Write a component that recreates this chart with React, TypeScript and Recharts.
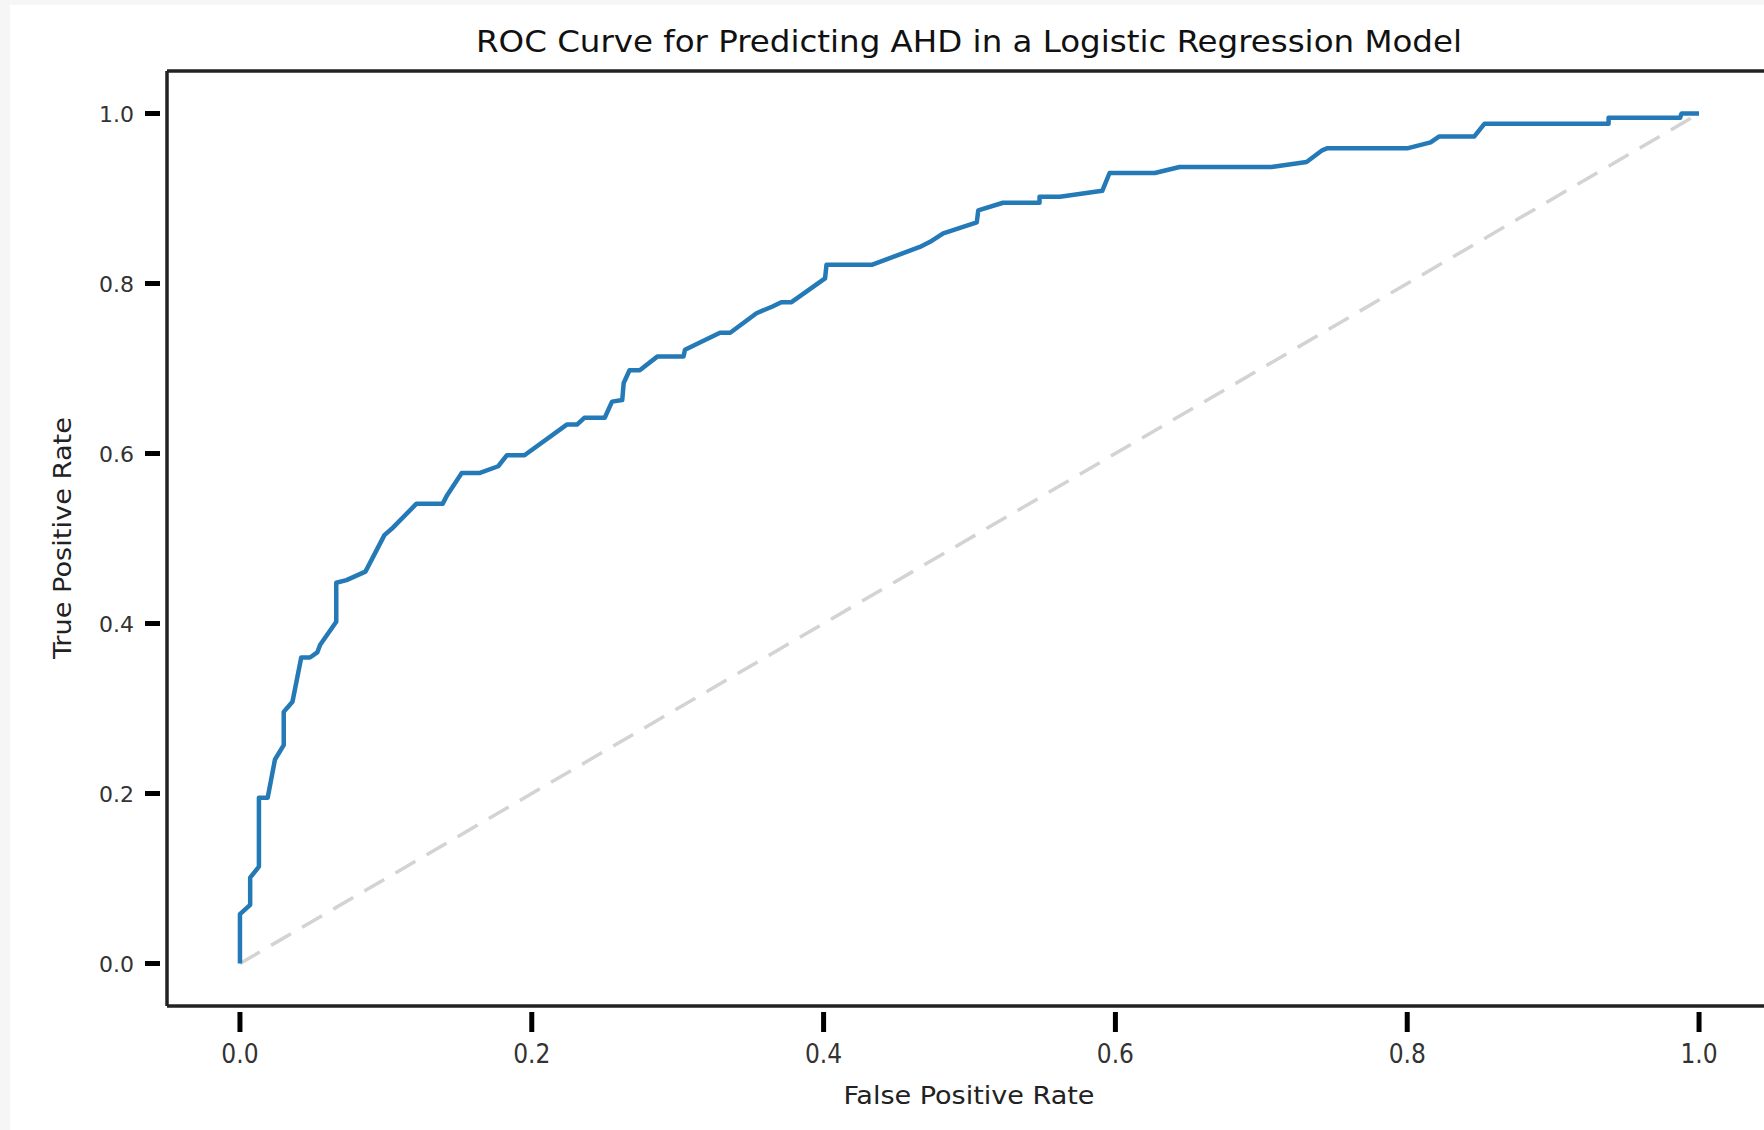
import { LineChart, Line, XAxis, YAxis, ReferenceLine } from 'recharts';

// ROC curve points
const fpr = [
  0, 0, 0.007, 0.007, 0.013, 0.013, 0.019, 0.024, 0.03, 0.03, 0.036, 0.042, 0.048, 0.053, 0.055, 0.066,
  0.066, 0.073, 0.086, 0.099, 0.105, 0.121, 0.139, 0.142, 0.152, 0.164, 0.177, 0.183, 0.195, 0.224, 0.231,
  0.236, 0.25, 0.255, 0.262, 0.263, 0.267, 0.274, 0.286, 0.304, 0.305, 0.329, 0.336, 0.354, 0.365, 0.371,
  0.378, 0.401, 0.402, 0.433, 0.466, 0.473, 0.482, 0.505, 0.506, 0.523, 0.548, 0.548, 0.562, 0.591, 0.596,
  0.627, 0.644, 0.707, 0.731, 0.742, 0.745, 0.8, 0.816, 0.822, 0.846, 0.853, 0.938, 0.938, 0.987, 0.988, 1.0,
];
const tpr = [
  0, 0.058, 0.069, 0.101, 0.114, 0.195, 0.195, 0.24, 0.257, 0.296, 0.308, 0.36, 0.36, 0.366, 0.375, 0.402,
  0.448, 0.451, 0.461, 0.504, 0.513, 0.541, 0.541, 0.551, 0.577, 0.577, 0.585, 0.598, 0.598, 0.634, 0.634,
  0.642, 0.642, 0.661, 0.663, 0.683, 0.698, 0.698, 0.714, 0.714, 0.722, 0.742, 0.742, 0.765, 0.773, 0.778,
  0.778, 0.806, 0.822, 0.822, 0.843, 0.849, 0.859, 0.872, 0.886, 0.895, 0.895, 0.902, 0.902, 0.909, 0.93,
  0.93, 0.937, 0.937, 0.943, 0.957, 0.959, 0.959, 0.966, 0.973, 0.973, 0.988, 0.988, 0.995, 0.995, 1.0, 1.0,
];
const chanceX = [0, 1];
const chanceY = [0, 1];
const ticks = [0, 0.2, 0.4, 0.6, 0.8, 1.0];
const axisMin = -0.05;
const axisMax = 1.05;

const rocData = fpr.map((x, i) => ({ fpr: x, tpr: tpr[i] }));
const chanceData = chanceX.map((x, i) => ({ fpr: x, tpr: chanceY[i] }));

const comic = '"DejaVu Sans Condensed", "DejaVu Sans", sans-serif';

const YTick = (props: any) => {
  const { x, y, payload } = props;
  return (
    <g>
      <line x1={x - 22} x2={x - 7} y1={y} y2={y} stroke="#000" strokeWidth={5} />
      <text x={x - 33} y={y + 8} textAnchor="end" fontSize={22} fill="#333" fontFamily="DejaVu Sans, sans-serif">
        {payload.value.toFixed(1)}
      </text>
    </g>
  );
};

const XTick = (props: any) => {
  const { x, y, payload } = props;
  return (
    <g>
      <line x1={x} x2={x} y1={y + 6} y2={y + 26} stroke="#000" strokeWidth={5} />
      <text x={x} y={y + 57} textAnchor="middle" fontSize={26} fill="#333" fontFamily={comic}>
        {payload.value.toFixed(1)}
      </text>
    </g>
  );
};

export default function App() {
  return (
    <div style={{ position: 'absolute', left: 0, top: 0, width: 1764, height: 1130, overflow: 'hidden', background: '#f6f6f6' }}>
      <div style={{ position: 'absolute', left: 10, top: 5, right: 0, bottom: 0, background: '#fff' }} />
      <div style={{ position: 'absolute', left: 0, top: 0 }}>
        <LineChart width={1780} height={1130} margin={{ top: 71, right: 8, left: 10, bottom: 0 }}>
          <XAxis
            dataKey="fpr"
            type="number"
            domain={[axisMin, axisMax]}
            ticks={ticks}
            allowDataOverflow
            height={124}
            tickSize={0}
            tickMargin={0}
            tickLine={false}
            axisLine={{ stroke: '#222', strokeWidth: 3.5 }}
            tick={<XTick />}
          />
          <YAxis
            type="number"
            domain={[axisMin, axisMax]}
            ticks={ticks}
            allowDataOverflow
            width={157}
            tickSize={0}
            tickMargin={0}
            tickLine={false}
            axisLine={{ stroke: '#222', strokeWidth: 3.5 }}
            tick={<YTick />}
          />
          {/* top spine */}
          <ReferenceLine y={axisMax} stroke="#222" strokeWidth={3.5} ifOverflow="visible" />
          <Line
            data={chanceData}
            dataKey="tpr"
            type="linear"
            stroke="#d3d3d3"
            strokeWidth={3.5}
            strokeDasharray="23 13"
            dot={false}
            activeDot={false}
            isAnimationActive={false}
          />
          <Line
            data={rocData}
            dataKey="tpr"
            type="linear"
            stroke="#2479b7"
            strokeWidth={4.5}
            strokeLinejoin="round"
            dot={false}
            activeDot={false}
            isAnimationActive={false}
          />
        </LineChart>
      </div>
      <svg width={1764} height={1130} style={{ position: 'absolute', left: 0, top: 0, pointerEvents: 'none' }}>
        <text x={969} y={52} textAnchor="middle" fontSize={31} fill="#111" fontFamily={comic} textLength={986} lengthAdjust="spacingAndGlyphs">
          ROC Curve for Predicting AHD in a Logistic Regression Model
        </text>
        <text x={969} y={1104} textAnchor="middle" fontSize={25} fill="#222" fontFamily={comic} textLength={251} lengthAdjust="spacingAndGlyphs">
          False Positive Rate
        </text>
        <text
          x={0}
          y={0}
          transform="translate(71 538) rotate(-90)"
          textAnchor="middle"
          fontSize={25}
          fill="#222"
          fontFamily={comic}
          textLength={242}
          lengthAdjust="spacingAndGlyphs"
        >
          True Positive Rate
        </text>
      </svg>
    </div>
  );
}
